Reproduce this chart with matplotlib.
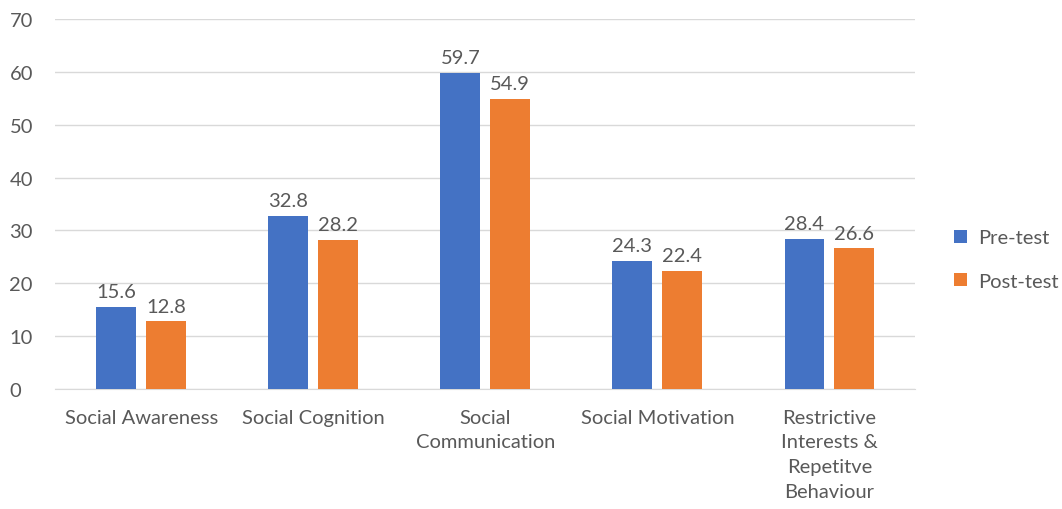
import numpy as np
import matplotlib
matplotlib.use("Agg")
import matplotlib.pyplot as plt

categories = ["Social Awareness", "Social Cognition", "Social\nCommunication",
              "Social Motivation", "Restrictive\nInterests &\nRepetitve\nBehaviour"]
pre_test = [15.6, 32.8, 59.7, 24.3, 28.4]
post_test = [12.8, 28.2, 54.9, 22.4, 26.6]
yticks = [0, 10, 20, 30, 40, 50, 60, 70]

plt.rcParams['font.family'] = ['Lato', 'DejaVu Sans']
grey = '#595959'
fs = 14.5

fig = plt.figure(figsize=(10.62, 5.10), dpi=100)
ax = fig.add_axes([0.052, 0.235, 0.81, 0.726])

x = np.arange(len(categories))
w = 0.232
off = 0.145
b1 = ax.bar(x - off, pre_test, w, color='#4472C4', label='Pre-test', zorder=3)
b2 = ax.bar(x + off, post_test, w, color='#ED7D31', label='Post-test', zorder=3)

for bars, vals in ((b1, pre_test), (b2, post_test)):
    for r, v in zip(bars, vals):
        ax.annotate(f"{v}", (r.get_x() + r.get_width() / 2, v), xytext=(0, 5),
                    textcoords='offset points', ha='center', va='bottom',
                    fontsize=fs, color=grey)

ax.set_xlim(-0.5, len(categories) - 0.5)
ax.set_ylim(0, 70)
ax.set_yticks(yticks)
ax.set_xticks(x)
ax.set_xticklabels(categories, fontsize=fs, color=grey, linespacing=1.55)
ax.tick_params(axis='y', labelsize=fs, labelcolor=grey, length=0, pad=33)
ax.tick_params(axis='x', length=0, pad=14)
ax.grid(axis='y', color='#d9d9d9', linewidth=1, zorder=0)
for s in ['top', 'right', 'left']:
    ax.spines[s].set_visible(False)
ax.spines['bottom'].set_color('#d9d9d9')
for lbl in ax.get_yticklabels():
    lbl.set_horizontalalignment('left')

leg = ax.legend(loc='center left', bbox_to_anchor=(1.045, 0.35), frameon=False,
                fontsize=fs, handlelength=0.65, handleheight=0.65,
                labelspacing=1.3, handletextpad=0.55, borderpad=0, borderaxespad=0)
for t in leg.get_texts():
    t.set_color(grey)

fig.savefig('out.png', dpi=100)
